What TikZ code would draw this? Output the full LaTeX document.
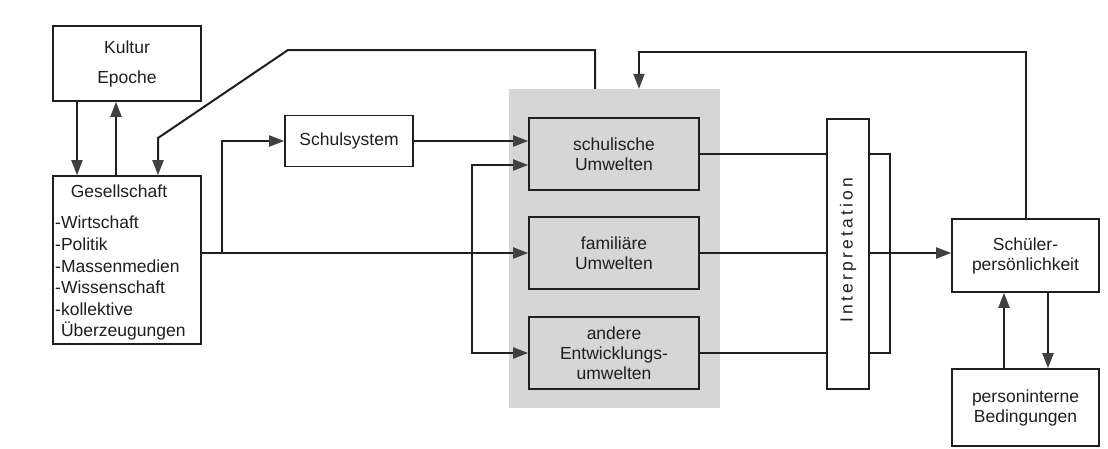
\documentclass[tikz,border=0pt]{standalone}
\usepackage{fontspec}
\setmainfont{Liberation Sans}
\usetikzlibrary{arrows.meta,backgrounds}
\definecolor{shade}{gray}{0.84}
\definecolor{ink}{gray}{0.12}
\begin{document}
\begin{tikzpicture}[x=1pt,y=-1pt,
  txt/.style={font=\fontsize{17.5}{20}\selectfont, text=ink},
  box/.style={txt, draw=ink, line width=1.6pt, inner sep=0pt, align=center, fill=white},
  envbox/.style={box, fill=shade},
  conn/.style={draw=ink, line width=2pt},
  arr/.style={conn, -{Triangle[length=15pt,width=11pt,color=black!75]}}
]
\useasboundingbox (0,0) rectangle (1108,448);

% nodes
\node[box, minimum width=148pt, minimum height=75pt] (kultur) at (127,63.5) {Kultur\\[10pt]Epoche};
\node[box, minimum width=148pt, minimum height=168pt] (ges) at (127,260) {};
\node[txt, inner sep=0pt] (gestitle) at (119,191) {Gesellschaft};
\node[txt, font=\fontsize{17.5}{21.6}\selectfont, anchor=north west, align=left, inner sep=0pt] (geslist) at (55,216)
  {-Wirtschaft\\-Politik\\-Massenmedien\\-Wissenschaft\\-kollektive\\\phantom{-}Überzeugungen};
\node[box, minimum width=128pt, minimum height=51pt] (schul) at (349,141) {Schulsystem};

\node[envbox, minimum width=170pt, minimum height=72pt] (su) at (614,154) {schulische\\Umwelten};
\node[envbox, minimum width=170pt, minimum height=72pt] (fa) at (614,253) {familiäre\\Umwelten};
\node[envbox, minimum width=170pt, minimum height=72pt] (an) at (614,353) {andere\\Entwicklungs-\\umwelten};

\node[box, minimum width=42pt, minimum height=270pt] (interp) at (848,254) {};
\node[txt, rotate=90, inner sep=0pt] (interptext) at (848,250) {\addfontfeature{LetterSpace=18}Interpretation};

\node[box, minimum width=147pt, minimum height=73pt] (sp) at (1025.5,255.5) {Schüler-\\persönlichkeit};
\node[box, minimum width=147pt, minimum height=77pt] (pi) at (1025.5,407.5) {personinterne\\Bedingungen};

\coordinate (d1) at (288,50);
\coordinate (d2) at (158,138);
\coordinate (b1) at (222,253);
\coordinate (b2) at (472,253);
\coordinate (xr) at (890,0);
\coordinate (ytop) at (0,52);

\begin{scope}[on background layer]
\fill[white] (0,0) rectangle (1108,448);
\node[fill=shade, minimum width=211pt, minimum height=319pt, inner sep=0pt] (env) at (614.5,248.5) {};

\draw[arr] ([xshift=-50pt]kultur.south) -- ([xshift=-50pt]ges.north);
\draw[arr] ([xshift=-11pt]ges.north) -- ([xshift=-11pt]kultur.south);
\draw[arr] ([xshift=-19.5pt]env.north) |- (d1) -- (d2) -- (d2 |- ges.north);

\draw[arr] (ges.east |- fa.west) -- (fa.west);
\draw[arr] (b1) |- (schul.west);
\draw[arr] (schul.east) -- (schul.east -| su.west);
\draw[arr] (b2) |- ([yshift=-11pt]su.west);
\draw[arr] (b2) |- (an.west);

\draw[conn] (su.east) -- (su.east -| xr) |- (an.east);
\draw[arr] (fa.east) -- (sp.west |- fa.east);

\draw[arr] (sp.north) -- (sp.north |- ytop) -| ([xshift=24.5pt]env.north);
\draw[arr] ([xshift=-21.5pt]pi.north) -- ([xshift=-21.5pt]sp.south);
\draw[arr] ([xshift=22.5pt]sp.south) -- ([xshift=22.5pt]pi.north);
\end{scope}
\end{tikzpicture}
\end{document}
